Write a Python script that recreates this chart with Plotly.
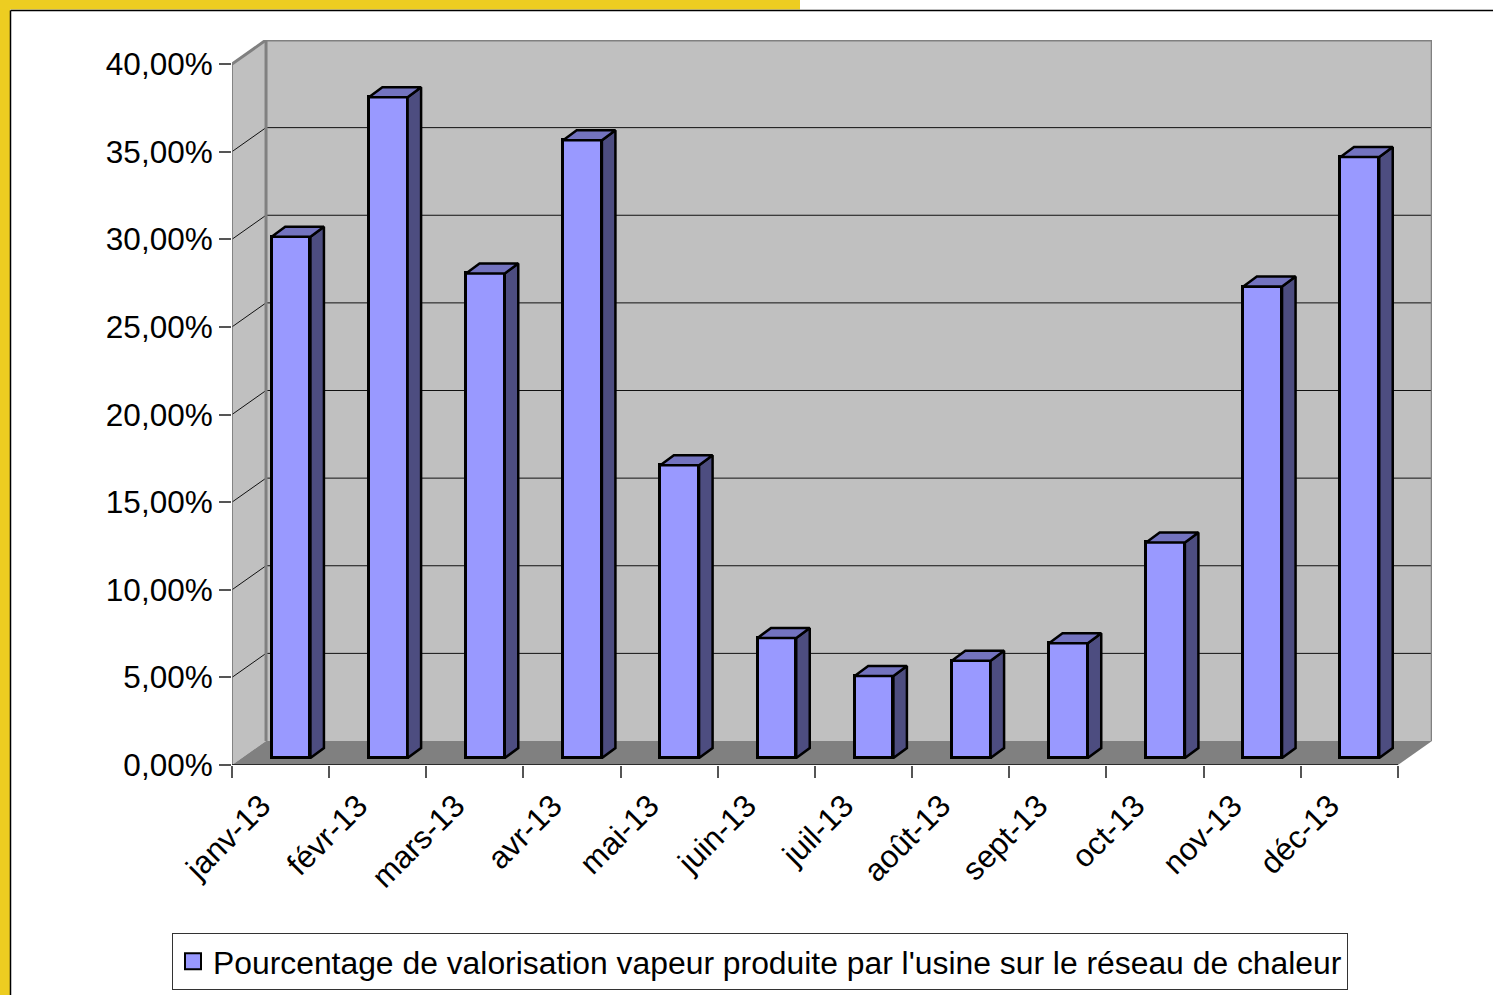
import plotly.graph_objects as go

W, H = 1493, 995

# ---- data ----
months = ["janv-13", "févr-13", "mars-13", "avr-13", "mai-13", "juin-13",
          "juil-13", "août-13", "sept-13", "oct-13", "nov-13", "déc-13"]
values = [29.75, 37.7, 27.65, 35.25, 16.7, 6.85, 4.68, 5.55, 6.55, 12.3, 26.9, 34.3]
y_ticks = [0, 5, 10, 15, 20, 25, 30, 35, 40]
y_labels = ["0,00%", "5,00%", "10,00%", "15,00%", "20,00%", "25,00%", "30,00%", "35,00%", "40,00%"]
series_name = "Pourcentage de valorisation vapeur produite par l'usine sur le réseau de chaleur"

# ---- 3-D projection settings (axis units) ----
PX_X = 97.08    # px per category
PX_Y = 17.525   # px per percentage point
WALL_DX = 34 / PX_X
WALL_DY = 24 / PX_Y
BAR_W = 38.7 / PX_X
BAR_SHIFT = 59 / PX_X
BAR_BASE = 7 / PX_Y
SIDE_DX = 13.5 / PX_X
SIDE_DY = 10 / PX_Y
LABEL_POS = 0.30
X_MAX = 12 + WALL_DX
Y_MAX = 40 + WALL_DY
n = len(months)
xs = [i + BAR_SHIFT for i in range(n)]

FRONT, SIDE, TOP = "#9999FF", "#4D4D80", "#7373BF"
WALL, FLOOR, EDGE = "#C0C0C0", "#808080", "#808080"
YELLOW = "#EDCD21"
FONT = "Liberation Sans, Arial, sans-serif"

fig = go.Figure()

# side and top faces
side_x, side_y, top_x, top_y = [], [], [], []
for x, v in zip(xs, values):
    r = x + BAR_W / 2
    l = x - BAR_W / 2
    t = v + BAR_BASE
    side_x += [r, r + SIDE_DX, r + SIDE_DX, r, r, None]
    side_y += [BAR_BASE, BAR_BASE + SIDE_DY, t + SIDE_DY, t, BAR_BASE, None]
    top_x += [l, l + SIDE_DX, r + SIDE_DX, r, l, None]
    top_y += [t, t + SIDE_DY, t + SIDE_DY, t, t, None]

fig.add_trace(go.Bar(x=xs, y=values, base=BAR_BASE, width=BAR_W,
                     marker=dict(color=FRONT, line=dict(color="black", width=3)),
                     showlegend=False, hoverinfo="skip"))
for px_, py_, c in ((side_x, side_y, SIDE), (top_x, top_y, TOP)):
    fig.add_trace(go.Scatter(x=px_, y=py_, mode="lines", fill="toself", fillcolor=c,
                             line=dict(color="black", width=2.5), showlegend=False,
                             hoverinfo="skip"))
# legend key
fig.add_trace(go.Scatter(x=[None], y=[None], mode="markers", name=series_name,
                         marker=dict(symbol="square", size=16, color=FRONT,
                                     line=dict(color="black", width=2))))

# walls, floor, grid
shapes = []
def poly(pts, fill, color="rgba(0,0,0,0)", width=0, xref="x", yref="y"):
    path = "M" + "L".join(f"{a},{b}" for a, b in pts) + "Z"
    shapes.append(dict(type="path", path=path, xref=xref, yref=yref, fillcolor=fill,
                       line=dict(color=color, width=width), layer="below"))
def seg(x0, y0, x1, y1, color, width, xref="x", yref="y", layer="below"):
    shapes.append(dict(type="line", x0=x0, y0=y0, x1=x1, y1=y1, xref=xref, yref=yref,
                       line=dict(color=color, width=width), layer=layer))

poly([(WALL_DX, WALL_DY), (X_MAX, WALL_DY), (X_MAX, Y_MAX), (WALL_DX, Y_MAX)], WALL)
poly([(0, 0), (WALL_DX, WALL_DY), (WALL_DX, Y_MAX), (0, 40)], WALL)
poly([(0, 0), (12, 0), (X_MAX, WALL_DY), (WALL_DX, WALL_DY)], FLOOR)
for v in y_ticks[1:-1]:
    seg(WALL_DX, v + WALL_DY, X_MAX, v + WALL_DY, "#111111", 1)
    seg(0, v, WALL_DX, v + WALL_DY, "#111111", 1)
seg(WALL_DX, WALL_DY, WALL_DX, Y_MAX, EDGE, 3)
seg(WALL_DX, Y_MAX, X_MAX, Y_MAX, EDGE, 3)
seg(X_MAX, WALL_DY, X_MAX, Y_MAX, EDGE, 2.5)
seg(0, 40, WALL_DX, Y_MAX, EDGE, 3)
seg(0, 0, 0, 40, "#707070", 1.5)
seg(0, 0, 12, 0, "#111111", 1.5)

# page frame
poly([(0, 0), (10 / W, 0), (10 / W, 1), (0, 1)], YELLOW, xref="paper", yref="paper")
poly([(0, 1), (800 / W, 1), (800 / W, 1 - 9.5 / H), (0, 1 - 9.5 / H)], YELLOW, xref="paper", yref="paper")
seg(10.5 / W, 1 - 10.5 / H, 1, 1 - 10.5 / H, "black", 1.5, "paper", "paper")
seg(10.5 / W, 0, 10.5 / W, 1 - 10.5 / H, "black", 1.5, "paper", "paper")

tickfont = dict(family=FONT, size=31.5, color="black")
fig.update_layout(
    width=W, height=H, margin=dict(l=0, r=0, t=0, b=0, pad=0, autoexpand=False),
    paper_bgcolor="white", plot_bgcolor="rgba(0,0,0,0)",
    shapes=shapes, bargap=0,
    xaxis=dict(domain=[232 / W, 1432 / W], range=[0, X_MAX], showgrid=False, zeroline=False,
               showline=False, tickmode="array", tickvals=[i + LABEL_POS for i in range(n)],
               ticktext=months, tickangle=-45, ticks="", tickfont=tickfont,
               ticklabelstandoff=15,
               minor=dict(tick0=0, dtick=1, ticks="outside", ticklen=12, tickwidth=1.5,
                          tickcolor="#555555", showgrid=False)),
    yaxis=dict(domain=[1 - 765 / H, 1 - 40 / H], range=[0, Y_MAX], showgrid=False, zeroline=False,
               showline=False, tickmode="array", tickvals=y_ticks, ticktext=y_labels,
               ticks="outside", ticklen=12, tickwidth=1.5, tickcolor="#555555",
               tickfont=tickfont, ticklabelstandoff=0),
    showlegend=True,
    legend=dict(x=172 / W, y=1 - 933 / H, xanchor="left", yanchor="top",
                bgcolor="white", bordercolor="#333333", borderwidth=1,
                font=dict(family=FONT, size=31.85, color="black"),
                entrywidth=1160, entrywidthmode="pixels"),
)
fig.write_html("out.html", config={"displayModeBar": False},
               post_script="document.body.style.margin='0';document.documentElement.style.overflow='hidden';")
